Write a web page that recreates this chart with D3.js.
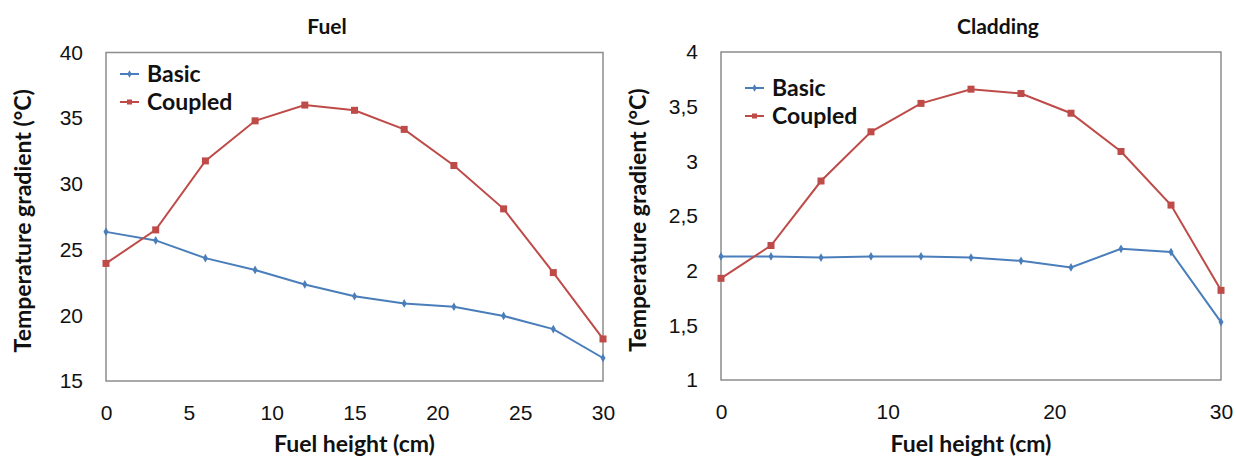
<!DOCTYPE html>
<html>
<head>
<meta charset="utf-8">
<script src="https://cdn.jsdelivr.net/npm/d3@7"></script>
<style>
  body { margin: 0; background: #fff; }
  svg { font-family: Lato, "Open Sans", sans-serif; }
  .tick text { font-size: 21px; fill: #111; }
  .axis-title { font-size: 23px; font-weight: bold; fill: #111; }
  .chart-title { font-size: 21px; font-weight: bold; fill: #111; }
  .legend text { font-size: 23px; font-weight: bold; fill: #111; }
</style>
</head>
<body>
<div id="chart"></div>
<script>
// fuel height positions (cm)
var heights = [0, 3, 6, 9, 12, 15, 18, 21, 24, 27, 30];

// Fuel panel
var fuelBasic   = [26.35, 25.7, 24.35, 23.45, 22.35, 21.45, 20.9, 20.65, 19.95, 18.95, 16.75];
var fuelCoupled = [23.95, 26.5, 31.75, 34.8, 36.0, 35.6, 34.15, 31.4, 28.1, 23.25, 18.2];

// Cladding panel
var cladBasic   = [2.13, 2.13, 2.12, 2.13, 2.13, 2.12, 2.09, 2.03, 2.2, 2.17, 1.53];
var cladCoupled = [1.93, 2.23, 2.82, 3.27, 3.53, 3.66, 3.62, 3.44, 3.09, 2.6, 1.82];

var seriesNames = ["Basic", "Coupled"];
var colors = ["#4a7ebb", "#be4b48"];

var svgWidth = 1236;
var svgHeight = 458;

var svg = d3.select("#chart")
  .append("svg")
  .attr("width", svgWidth)
  .attr("height", svgHeight);

function drawPanel(cfg) {
  var x = d3.scaleLinear().domain([0, 30]).range([cfg.left, cfg.right]);
  var y = d3.scaleLinear().domain(cfg.yDomain).range([cfg.bottom, cfg.top]);

  var g = svg.append("g");

  // plot area border
  g.append("rect")
    .attr("x", cfg.left)
    .attr("y", cfg.top)
    .attr("width", cfg.right - cfg.left)
    .attr("height", cfg.bottom - cfg.top)
    .attr("fill", "none")
    .attr("stroke", "#8c8c8c")
    .attr("stroke-width", 1.5);

  // axes (no tick marks, labels only)
  var xAxis = g.append("g")
    .attr("transform", `translate(0, ${cfg.bottom})`)
    .call(d3.axisBottom(x).tickValues(cfg.xTicks).tickSize(0).tickPadding(24));
  xAxis.select(".domain").remove();

  var yAxis = g.append("g")
    .attr("transform", `translate(${cfg.left}, 0)`)
    .call(d3.axisLeft(y).tickValues(cfg.yTicks).tickSize(0).tickPadding(23)
      .tickFormat(cfg.yFormat));
  yAxis.select(".domain").remove();
  g.selectAll(".tick text").attr("font-family", null).attr("font-size", null);

  // lines
  var line = d3.line()
    .x((d, i) => x(heights[i]))
    .y(d => y(d));

  cfg.series.forEach(function(values, s) {
    g.append("path")
      .datum(values)
      .attr("fill", "none")
      .attr("stroke", colors[s])
      .attr("stroke-width", 2)
      .attr("d", line);

    if (s === 0) {
      // small diamonds
      g.selectAll(".dia" + cfg.id)
        .data(values)
        .enter()
        .append("path")
        .attr("d", d3.symbol(d3.symbolDiamond, 22))
        .attr("transform", (d, i) => `translate(${x(heights[i])}, ${y(d)})`)
        .attr("fill", colors[s]);
    } else {
      g.selectAll(".sq" + cfg.id)
        .data(values)
        .enter()
        .append("rect")
        .attr("x", (d, i) => x(heights[i]) - 3.5)
        .attr("y", d => y(d) - 3.5)
        .attr("width", 7)
        .attr("height", 7)
        .attr("fill", colors[s]);
    }
  });

  // legend
  var legend = g.append("g").attr("class", "legend");
  seriesNames.forEach(function(name, s) {
    var ly = cfg.legendY + s * 28;
    legend.append("line")
      .attr("x1", cfg.legendX)
      .attr("x2", cfg.legendX + 19)
      .attr("y1", ly)
      .attr("y2", ly)
      .attr("stroke", colors[s])
      .attr("stroke-width", 2);
    if (s === 0) {
      legend.append("path")
        .attr("d", d3.symbol(d3.symbolDiamond, 16))
        .attr("transform", `translate(${cfg.legendX + 9.5}, ${ly})`)
        .attr("fill", colors[s]);
    } else {
      legend.append("rect")
        .attr("x", cfg.legendX + 7)
        .attr("y", ly - 2.5)
        .attr("width", 5)
        .attr("height", 5)
        .attr("fill", colors[s]);
    }
    legend.append("text")
      .attr("x", cfg.legendX + 27)
      .attr("y", ly)
      .attr("dy", "0.35em")
      .text(name);
  });

  // titles
  g.append("text")
    .attr("class", "chart-title")
    .attr("x", cfg.titleX)
    .attr("y", 27)
    .attr("dy", "0.35em")
    .attr("text-anchor", "middle")
    .text(cfg.title);

  g.append("text")
    .attr("class", "axis-title")
    .attr("x", (cfg.left + cfg.right) / 2)
    .attr("y", 444)
    .attr("dy", "0.35em")
    .attr("text-anchor", "middle")
    .text("Fuel height (cm)");

  g.append("text")
    .attr("class", "axis-title")
    .attr("transform", `translate(${cfg.yTitleX}, ${(cfg.top + cfg.bottom) / 2 + 4}) rotate(-90)`)
    .attr("dy", "0.35em")
    .attr("text-anchor", "middle")
    .text("Temperature gradient (°C)");
}

drawPanel({
  id: "fuel",
  left: 106, right: 603, top: 52.5, bottom: 381,
  yDomain: [15, 40],
  yTicks: [15, 20, 25, 30, 35, 40],
  xTicks: [0, 5, 10, 15, 20, 25, 30],
  yFormat: d => String(d),
  series: [fuelBasic, fuelCoupled],
  legendX: 120, legendY: 74,
  title: "Fuel", titleX: 327,
  yTitleX: 23
});

drawPanel({
  id: "clad",
  left: 721, right: 1221, top: 52, bottom: 380,
  yDomain: [1, 4],
  yTicks: [1, 1.5, 2, 2.5, 3, 3.5, 4],
  xTicks: [0, 10, 20, 30],
  yFormat: d => String(d).replace(".", ","),
  series: [cladBasic, cladCoupled],
  legendX: 745, legendY: 88,
  title: "Cladding", titleX: 998,
  yTitleX: 638
});
</script>
</body>
</html>
